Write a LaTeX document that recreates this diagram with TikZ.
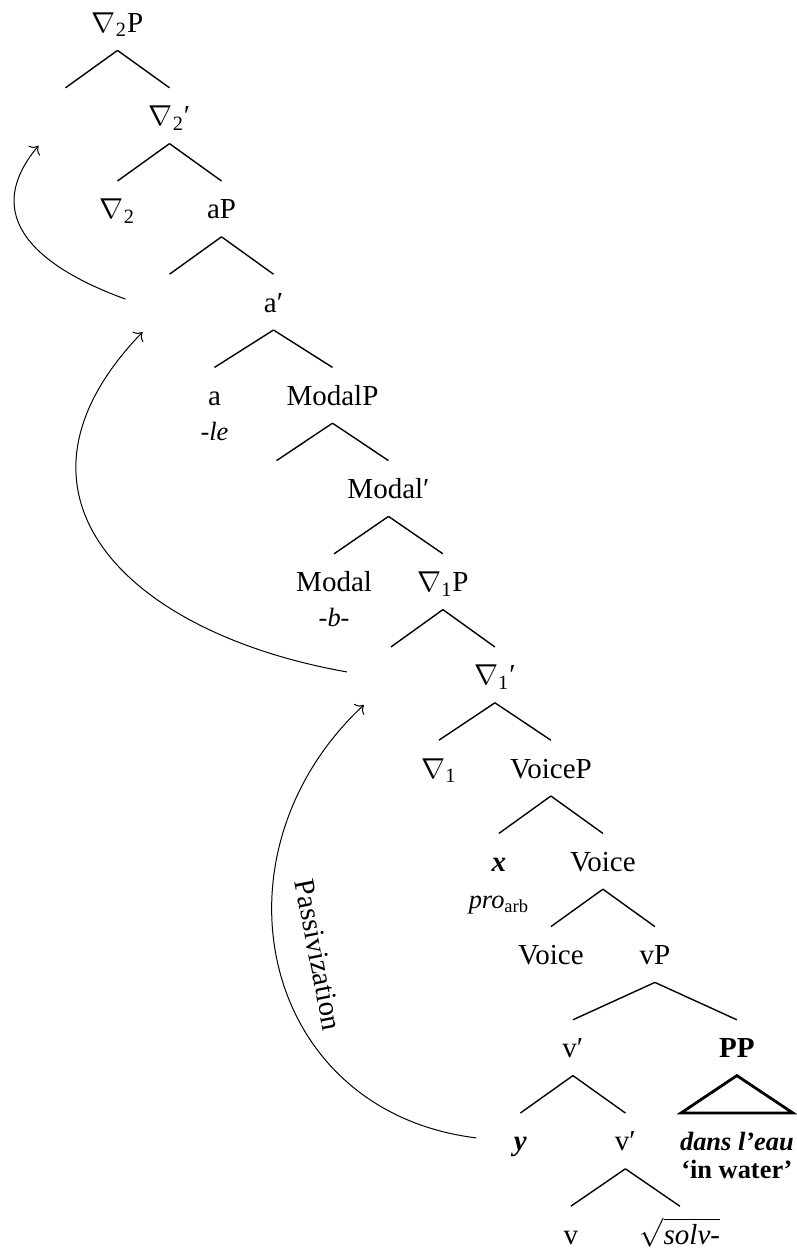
\documentclass[tikz,border=0pt]{standalone}
\usepackage{fontspec}
\setmainfont{Liberation Serif}
\usetikzlibrary{positioning}
\usetikzlibrary{arrows.meta}

\tikzset{
  cat/.style={text height=10pt, text depth=0pt, inner ysep=8.75pt, inner xsep=1pt},
  gloss/.style={cat, font=\fontsize{13.2pt}{15pt}\selectfont},
  branch/.style={line width=.7pt},
  roof/.style={line width=1.4pt, line join=miter},
  move/.style={line width=.5pt, -{To[scale=1.3]}},
}

\begin{document}
\begin{tikzpicture}[on grid, node distance=46.6pt and 26pt,
  font=\fontsize{14.5pt}{17pt}\selectfont]
\useasboundingbox (0,0) rectangle (398.5pt,-627pt);
\node[cat] (dtwoP) at (58.75pt,-11.25pt) {$\nabla$\textsubscript{2}P};
\node[cat, below left=of dtwoP] (specA) {};
\node[cat, below right=of dtwoP] (dtwoB) {$\nabla$\textsubscript{2}′};
\node[cat, below left=of dtwoB] (dtwo) {$\nabla$\textsubscript{2}};
\node[cat, below right=of dtwoB] (aP) {aP};
\node[cat, below left=of aP] (specB) {};
\node[cat, below right=of aP] (aB) {a′};
\node[cat, below left=46.6pt and 29.5pt of aB] (a) {a};
\node[gloss, below=17.5pt of a] (le) {\textit{-le}};
\node[cat, below right=46.6pt and 29.5pt of aB] (modP) {ModalP};
\node[cat, below left=46.6pt and 28pt of modP] (specC) {};
\node[cat, below right=46.6pt and 28pt of modP] (modB) {Modal′};
\node[cat, below left=46.6pt and 27.2pt of modB] (mod) {Modal};
\node[gloss, below=17.5pt of mod] (b) {\textit{-b-}};
\node[cat, below right=46.6pt and 27.2pt of modB] (doneP) {$\nabla$\textsubscript{1}P};
\node[cat, below left=of doneP] (specD) {};
\node[cat, below right=of doneP] (doneB) {$\nabla$\textsubscript{1}′};
\node[cat, below left=46.6pt and 28pt of doneB] (done) {$\nabla$\textsubscript{1}};
\node[cat, below right=46.6pt and 28pt of doneB] (voiceP) {VoiceP};
\node[cat, below left=of voiceP] (xarg) {\textbf{\textit{x}}};
\node[gloss, below=18.5pt of xarg] (pro) {\textit{pro}\textsubscript{arb}};
\node[cat, below right=of voiceP] (voiceB) {Voice};
\node[cat, below left=of voiceB] (voice) {Voice};
\node[cat, below right=of voiceB] (vP) {vP};
\node[cat, below left=46.6pt and 41pt of vP] (vB) {v′};
\node[cat, below right=46.6pt and 41pt of vP] (PP) {\textbf{PP}};
\node[gloss, below=of PP] (eau) {\textbf{\textit{dans l’eau}}};
\node[gloss, below=14pt of eau] (water) {\textbf{‘in water’}};
\node[cat, below left=46.6pt and 26.25pt of vB] (yarg) {\textbf{\textit{y}}};
\node[cat, below right=46.6pt and 26.25pt of vB] (vBB) {v′};
\node[cat, below left=46.6pt and 27.25pt of vBB] (v) {v};
\node[cat, below right=46.6pt and 27.25pt of vBB] (solv) {$\sqrt{\textit{solv-}}$};

\draw[branch] (dtwoP.south) edge (specA.north) (dtwoP.south) edge (dtwoB.north)
      (dtwoB.south) edge (dtwo.north) (dtwoB.south) edge (aP.north)
      (aP.south) edge (specB.north) (aP.south) edge (aB.north)
      (aB.south) edge (a.north) (aB.south) edge (modP.north)
      (modP.south) edge (specC.north) (modP.south) edge (modB.north)
      (modB.south) edge (mod.north) (modB.south) edge (doneP.north)
      (doneP.south) edge (specD.north) (doneP.south) edge (doneB.north)
      (doneB.south) edge (done.north) (doneB.south) edge (voiceP.north)
      (voiceP.south) edge (xarg.north) (voiceP.south) edge (voiceB.north)
      (voiceB.south) edge (voice.north) (voiceB.south) edge (vP.north)
      (vP.south) edge (vB.north) (vP.south) edge (PP.north)
      (vB.south) edge (yarg.north) (vB.south) edge (vBB.north)
      (vBB.south) edge (v.north) (vBB.south) edge (solv.north);

\coordinate (roofL) at ([xshift=-28pt]eau.north);
\coordinate (roofR) at ([xshift=28pt]eau.north);
\draw[roof] (PP.south) -- (roofL) -- (roofR) -- cycle;

% movement arrows
\coordinate (fromB) at ([shift={(-22pt,1.5pt)}]specB.center);
\coordinate (toA) at ([shift={(-13.5pt,-15pt)}]specA.center);
\coordinate (fromD) at ([shift={(-22pt,1.5pt)}]specD.center);
\coordinate (toB) at ([shift={(-13.5pt,-15pt)}]specB.center);
\coordinate (fromY) at ([shift={(-22pt,1.5pt)}]yarg.center);
\coordinate (toD) at ([shift={(-13.5pt,-15pt)}]specD.center);
\draw[move] (fromB) to[out=160, in=-130, looseness=1.35] (toA);
\draw[move] (fromD) to[out=170, in=-134, looseness=1.45] (toB);
\draw[move] (fromY) to[out=173, in=-137, looseness=1.25] (toD);
\node[rotate=-79, above left=93pt and 101pt of yarg] (pass) {Passivization};
\end{tikzpicture}
\end{document}
